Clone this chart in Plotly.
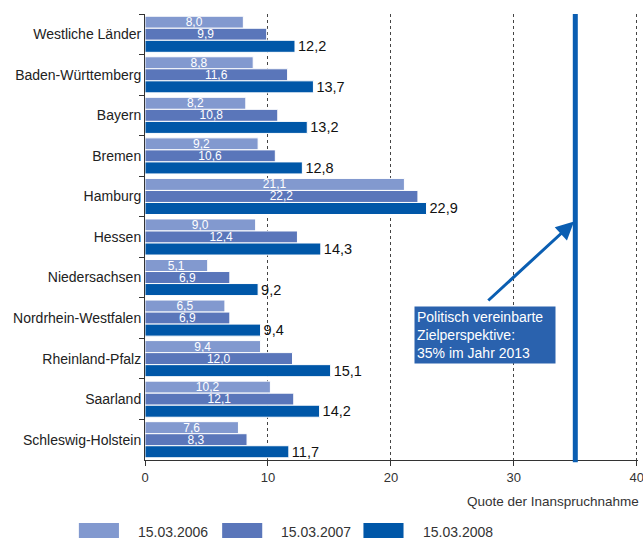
import plotly.graph_objects as go

categories = ["Westliche Länder", "Baden-Württemberg", "Bayern", "Bremen", "Hamburg",
              "Hessen", "Niedersachsen", "Nordrhein-Westfalen", "Rheinland-Pfalz",
              "Saarland", "Schleswig-Holstein"]
series_names = ["15.03.2006", "15.03.2007", "15.03.2008"]
v2006 = [8.0, 8.8, 8.2, 9.2, 21.1, 9.0, 5.1, 6.5, 9.4, 10.2, 7.6]
v2007 = [9.9, 11.6, 10.8, 10.6, 22.2, 12.4, 6.9, 6.9, 12.0, 12.1, 8.3]
v2008 = [12.2, 13.7, 13.2, 12.8, 22.9, 14.3, 9.2, 9.4, 15.1, 14.2, 11.7]
target = 35
x_ticks = [0, 10, 20, 30, 40]
box_text = "Politisch vereinbarte<br>Zielperspektive:<br>35% im Jahr 2013"
axis_title = "Quote der Inanspruchnahme"

colors = ["#8299CF", "#5A76BA", "#0057A8"]
FONT = "Liberation Sans"

def fmt(v):
    return f"{v:.1f}".replace(".", ",")

fig = go.Figure()
all_vals = [v2006, v2007, v2008]
for i, (name, vals) in enumerate(zip(series_names, all_vals)):
    inside = i < 2
    fig.add_trace(go.Bar(
        y=categories, x=vals, name=name, orientation="h",
        marker=dict(color=colors[i], line=dict(color="white", width=1)),
        text=[fmt(v) for v in vals],
        textposition="inside" if inside else "outside",
        insidetextanchor="middle",
        constraintext="none",
        textfont=dict(color="white" if inside else "#111", size=12 if inside else 14.5, family=FONT),
        cliponaxis=False,
        showlegend=False,
        hoverinfo="skip",
    ))

# target line
fig.add_shape(type="line", xref="x", yref="paper", x0=target, x1=target, y0=-0.005, y1=1.0,
              line=dict(color="#0A5EB2", width=5))

# arrow
fig.add_annotation(x=target - 0.1, y=4.62, ax=27.8, ay=6.6, xref="x", yref="y",
                   axref="x", ayref="y", text="", showarrow=True, arrowhead=2,
                   arrowsize=1.2, arrowwidth=3, arrowcolor="#0A5EB2")
# box
fig.add_annotation(x=21.87, y=6.69, xref="x", yref="y", xanchor="left", yanchor="top",
                   text=box_text, showarrow=False, align="left",
                   font=dict(color="white", size=14, family=FONT),
                   bgcolor="#2A62AE", borderpad=2, width=136)

# axis title
fig.add_annotation(x=1.006, y=-0.094, xref="paper", yref="paper", xanchor="right",
                   yanchor="middle", text=axis_title, showarrow=False,
                   font=dict(size=13.5, color="#333", family=FONT))

# custom legend
sw_x = [79, 222, 363]
for i, name in enumerate(series_names):
    x0 = (sw_x[i] - 145) / 492
    x1 = (sw_x[i] + 40 - 145) / 492
    fig.add_shape(type="rect", xref="paper", yref="paper", x0=x0, x1=x1,
                  y0=(460 - 540) / 446, y1=(460 - 523) / 446,
                  fillcolor=colors[i], line=dict(width=0))
    fig.add_annotation(x=(sw_x[i] + 57 - 145) / 492, y=(460 - 532) / 446,
                       xref="paper", yref="paper", xanchor="left", yanchor="middle",
                       text=name, showarrow=False,
                       font=dict(size=14, color="#333", family=FONT))

fig.update_layout(
    width=643, height=538,
    margin=dict(l=145, r=5, t=14, b=78, autoexpand=False),
    paper_bgcolor="white", plot_bgcolor="white",
    barmode="group", bargap=0.11, bargroupgap=0.0,
    font=dict(family=FONT, color="#222"),
)
fig.update_xaxes(range=[0, 40.1], tickvals=x_ticks, showgrid=True, griddash="dot",
                 gridcolor="#444", gridwidth=1, zeroline=False, showline=True,
                 linecolor="#333", linewidth=1, ticks="outside", ticklen=5,
                 tickcolor="#333", tickfont=dict(size=13, color="#333"),
                 ticklabeloverflow="allow", automargin=False)
fig.update_yaxes(type="category", categoryorder="array", categoryarray=categories,
                 autorange="reversed", showgrid=False, showline=True, linecolor="#333",
                 linewidth=1, ticks="outside", tickson="boundaries", ticklen=5,
                 tickcolor="#333", tickfont=dict(size=14, color="#222"), zeroline=False,
                 automargin=False)

fig.write_html("out.html", config={"displayModeBar": False},
               post_script="document.body.style.margin='0';document.body.style.overflow='hidden';")
